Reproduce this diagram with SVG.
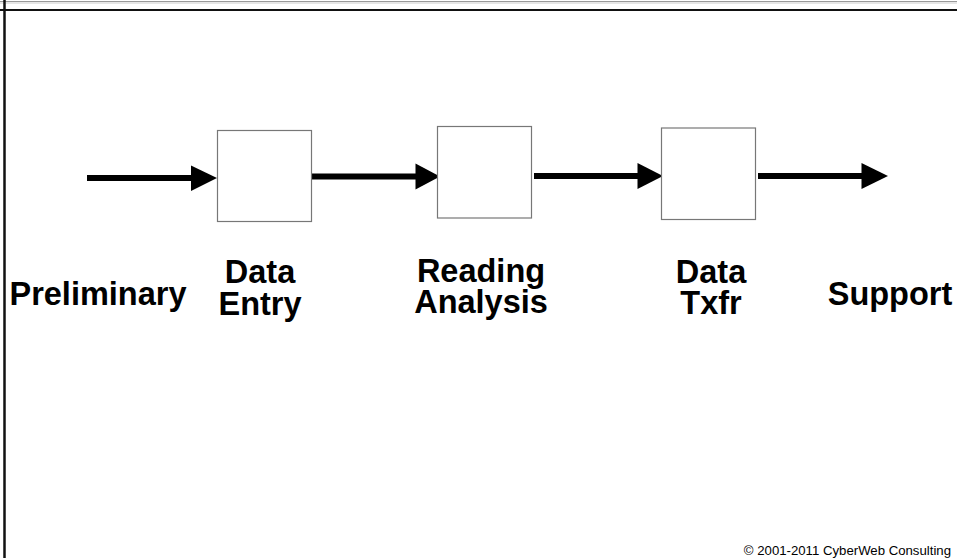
<svg xmlns="http://www.w3.org/2000/svg" width="957" height="558" viewBox="0 0 957 558">
<defs>
<style>
.box{fill:#fff;stroke:#777;stroke-width:1.2}
.lbl{font-family:"Liberation Sans",Arial,sans-serif;font-weight:bold;font-size:32.5px;fill:#000;text-anchor:middle}
.conn{stroke:#000;stroke-width:6;fill:none}
.head{fill:#000}
.copy{font-family:"Liberation Sans",Arial,sans-serif;font-size:13.2px;fill:#000;text-anchor:end}
</style>
</defs>
<rect width="957" height="558" fill="#fff"/>
<g id="frame">
<line x1="0" y1="1.5" x2="957" y2="1.5" stroke="#999" stroke-width="1"/>
<line x1="0" y1="3" x2="957" y2="3" stroke="#ccc" stroke-width="1"/>
<line x1="0" y1="10" x2="957" y2="10" stroke="#111" stroke-width="2"/>
<line x1="4.5" y1="0" x2="4.5" y2="558" stroke="#111" stroke-width="2.5"/>
</g>
<g id="connectors">
<line class="conn" x1="87" y1="178" x2="193" y2="178"/>
<polygon class="head" points="191,165.5 217,178 191,191"/>
<line class="conn" x1="312" y1="176.5" x2="418" y2="176.5"/>
<polygon class="head" points="415.5,163.5 440,176.5 415.5,189.5"/>
<line class="conn" x1="534" y1="176" x2="640" y2="176"/>
<polygon class="head" points="637.5,163 663,176 637.5,189"/>
<line class="conn" x1="758" y1="176" x2="864" y2="176"/>
<polygon class="head" points="861.5,163 888,176 861.5,189"/>
</g>
<g id="node-preliminary">
<text class="lbl" x="98" y="305">Preliminary</text>
</g>
<g id="node-data-entry">
<rect class="box" x="217.5" y="130.5" width="94" height="91"/>
<text class="lbl" x="260" y="283">Data</text>
<text class="lbl" x="260" y="315">Entry</text>
</g>
<g id="node-reading-analysis">
<rect class="box" x="437.5" y="126.5" width="94" height="91.5"/>
<text class="lbl" x="481" y="281.5">Reading</text>
<text class="lbl" x="481" y="313">Analysis</text>
</g>
<g id="node-data-txfr">
<rect class="box" x="661.5" y="128" width="94" height="91.5"/>
<text class="lbl" x="711" y="283">Data</text>
<text class="lbl" x="711" y="313.5">Txfr</text>
</g>
<g id="node-support">
<text class="lbl" x="890" y="305">Support</text>
</g>
<text class="copy" x="951" y="555">© 2001-2011 CyberWeb Consulting</text>
</svg>
